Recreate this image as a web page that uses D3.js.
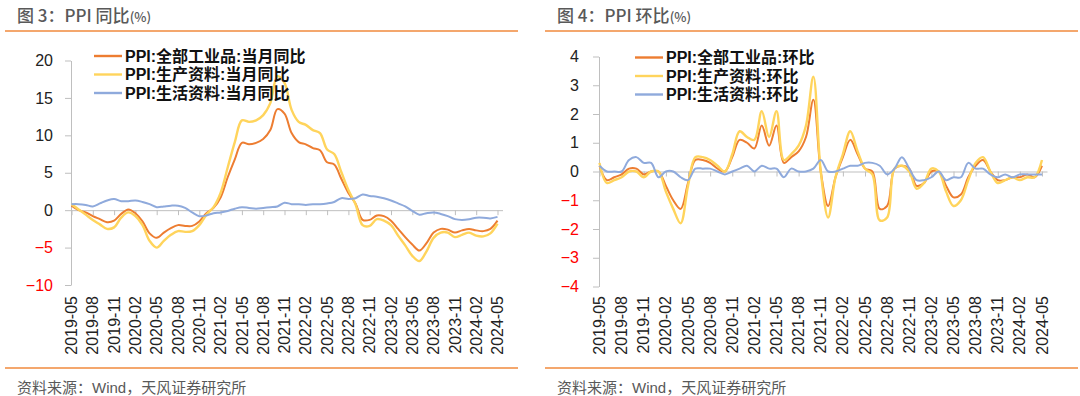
<!DOCTYPE html>
<html>
<head>
<meta charset="utf-8">
<script src="https://cdn.jsdelivr.net/npm/d3@7/dist/d3.min.js"></script>
<style>
    body { margin: 0; background: #fff; }
    svg { display: block; font-family: "Liberation Sans", Arial, "Noto Sans CJK SC", sans-serif; }
</style>
</head>
<body>
<svg id="chart" width="1080" height="396"></svg>
<script>
// months on the category axis, 2019-05 .. 2024-05
const months = [
    "2019-05", "2019-06", "2019-07", "2019-08", "2019-09", "2019-10", "2019-11", "2019-12",
    "2020-01", "2020-02", "2020-03", "2020-04", "2020-05", "2020-06", "2020-07", "2020-08",
    "2020-09", "2020-10", "2020-11", "2020-12",
    "2021-01", "2021-02", "2021-03", "2021-04", "2021-05", "2021-06", "2021-07", "2021-08",
    "2021-09", "2021-10", "2021-11", "2021-12",
    "2022-01", "2022-02", "2022-03", "2022-04", "2022-05", "2022-06", "2022-07", "2022-08",
    "2022-09", "2022-10", "2022-11", "2022-12",
    "2023-01", "2023-02", "2023-03", "2023-04", "2023-05", "2023-06", "2023-07", "2023-08",
    "2023-09", "2023-10", "2023-11", "2023-12",
    "2024-01", "2024-02", "2024-03", "2024-04", "2024-05"
];
// labels shown under the axis (every third month)
const monthLabels = [
    "2019-05", "2019-08", "2019-11", "2020-02", "2020-05", "2020-08", "2020-11",
    "2021-02", "2021-05", "2021-08", "2021-11", "2022-02", "2022-05", "2022-08",
    "2022-11", "2023-02", "2023-05", "2023-08", "2023-11", "2024-02", "2024-05"
];

// 图3: PPI 同比
const yoyAll = [
    0.6, 0.0, -0.3, -0.8, -1.2, -1.6, -1.4, -0.5,
    0.1, -0.4, -1.5, -3.1, -3.7, -3.0, -2.4, -2.0, -2.1, -2.1, -1.5, -0.4,
    0.3, 1.7, 4.4, 6.8, 9.0, 8.8, 9.0, 9.5, 10.7, 13.5, 12.9, 10.3,
    9.1, 8.8, 8.3, 8.0, 6.4, 6.1, 4.2, 2.3, 0.9, -1.3, -1.3, -0.7,
    -0.8, -1.4, -2.5, -3.6, -4.6, -5.4, -4.4, -3.0, -2.5, -2.6, -3.0, -2.7,
    -2.5, -2.7, -2.8, -2.5, -1.4
];
const yoyProducer = [
    0.8, 0.1, -0.6, -1.3, -1.9, -2.5, -2.3, -1.0,
    -0.3, -0.8, -2.0, -4.1, -5.0, -4.1, -3.3, -2.8, -2.9, -2.8, -2.0, -0.6,
    0.4, 2.3, 5.7, 9.1, 12.0, 11.8, 12.0, 12.7, 14.3, 17.9, 17.0, 13.4,
    11.8, 11.4, 10.7, 10.3, 8.1, 7.5, 5.1, 2.7, 0.8, -2.0, -2.1, -1.2,
    -1.4, -2.0, -3.4, -4.7, -6.1, -6.8, -5.5, -3.7, -3.0, -3.0, -3.6, -3.3,
    -3.0, -3.4, -3.5, -3.1, -1.8
];
const yoyConsumer = [
    0.8, 0.8, 0.7, 0.5, 0.9, 1.3, 1.5, 1.2,
    1.2, 1.3, 1.1, 0.8, 0.4, 0.5, 0.6, 0.6, 0.3, -0.3, -0.8, -0.7,
    -0.4, -0.3, -0.1, 0.2, 0.4, 0.3, 0.2, 0.3, 0.4, 0.5, 1.0, 0.8,
    0.8, 0.7, 0.8, 0.8, 0.9, 1.1, 1.6, 1.5, 1.6, 2.1, 1.9, 1.8,
    1.6, 1.3, 0.9, 0.5, -0.1, -0.6, -0.4, -0.3, -0.5, -0.8, -1.2, -1.3,
    -1.2, -1.0, -1.0, -1.1, -0.9
];

// 图4: PPI 环比
const momAll = [
    0.2, -0.3, -0.2, -0.1, 0.1, 0.1, -0.1, 0.0,
    0.0, -0.5, -1.0, -1.3, -0.4, 0.4, 0.4, 0.3, 0.1, 0.0, 0.5, 1.1,
    1.0, 0.8, 1.6, 0.9, 1.6, 0.3, 0.5, 0.7, 1.2, 2.5, 0.0, -1.2,
    -0.2, 0.5, 1.1, 0.6, 0.1, 0.0, -1.3, -1.2, 0.1, 0.2, 0.1, -0.5,
    -0.4, 0.0, 0.0, -0.5, -0.9, -0.8, -0.2, 0.2, 0.4, 0.0, -0.3, -0.3,
    -0.2, -0.2, -0.1, -0.2, 0.2
];
const momProducer = [
    0.3, -0.4, -0.3, -0.2, 0.0, 0.0, -0.2, 0.0,
    0.0, -0.7, -1.3, -1.8, -0.5, 0.5, 0.5, 0.4, 0.2, 0.0, 0.6, 1.4,
    1.2, 1.1, 2.1, 1.2, 2.1, 0.4, 0.6, 0.9, 1.6, 3.3, 0.0, -1.6,
    -0.2, 0.6, 1.4, 0.7, 0.1, -0.1, -1.7, -1.6, 0.1, 0.2, 0.0, -0.6,
    -0.4, 0.1, 0.0, -0.7, -1.2, -1.0, -0.3, 0.3, 0.5, 0.0, -0.4, -0.3,
    -0.2, -0.3, -0.2, -0.2, 0.4
];
const momConsumer = [
    0.2, 0.0, 0.0, 0.0, 0.4, 0.5, 0.3, 0.3,
    -0.2, 0.0, 0.0, -0.2, -0.3, 0.1, 0.1, 0.1, 0.0, -0.1, 0.0, 0.1,
    0.2, 0.0, 0.2, 0.1, 0.1, -0.2, 0.1, 0.0, 0.0, 0.1, 0.4, 0.0,
    0.0, 0.1, 0.2, 0.2, 0.3, 0.3, 0.2, -0.1, 0.1, 0.5, 0.1, -0.3,
    -0.3, -0.2, 0.0, -0.3, -0.2, -0.2, 0.3, 0.1, 0.1, -0.1, -0.2, -0.1,
    -0.2, -0.1, -0.1, -0.1, -0.1
];

const colors = ["#ED7D31", "#FFD45C", "#8FAADC"];
const widths = [2, 2.4, 2];

var svg = d3.select("#chart");

function drawPanel(cfg) {
    var g = svg.append("g").attr("class", "panel");

    // title + orange rule on top
    var title = g.append("text")
        .attr("x", cfg.left + 12)
        .attr("y", 22)
        .attr("fill", "#595959")
        .style("font-family", "'Noto Sans CJK SC', sans-serif")
        .style("font-weight", 500)
        .style("font-size", "17px")
        .text(cfg.title);
    title.append("tspan").style("font-size", "13px").text("(%)");
    g.append("line")
        .attr("x1", cfg.left).attr("x2", cfg.left + cfg.ruleW)
        .attr("y1", 31).attr("y2", 31)
        .attr("stroke", "#F08A3C").attr("stroke-width", 1.5);

    // footer
    g.append("line")
        .attr("x1", cfg.left).attr("x2", cfg.left + cfg.ruleW)
        .attr("y1", 368).attr("y2", 368)
        .attr("stroke", "#F08A3C").attr("stroke-width", 1.5);
    g.append("text")
        .attr("x", cfg.left + 12)
        .attr("y", 392.5)
        .attr("fill", "#595959")
        .style("font-size", "15px")
        .text("资料来源：Wind，天风证券研究所");

    var x = d3.scalePoint().domain(months).range([cfg.x0, cfg.x1]);
    var y = d3.scaleLinear().domain(cfg.yDomain).range([cfg.yBottom, cfg.yTop]);

    // y axis
    var yAxis = g.append("g")
        .attr("transform", "translate(" + cfg.axisX + ",0)")
        .call(d3.axisLeft(y).tickValues(cfg.yTicks).tickSize(6).tickSizeOuter(0).tickPadding(cfg.yPad));
    yAxis.select(".domain").attr("stroke", "#BFBFBF");
    yAxis.selectAll(".tick line").attr("stroke", "#BFBFBF");
    yAxis.selectAll(".tick text")
        .style("font-size", "16px")
        .attr("fill", (d) => (d < 0 ? "#FF0000" : "#222"));

    // zero line with small ticks every third month
    var xAxis = g.append("g")
        .attr("transform", "translate(0," + y(0) + ")")
        .call(d3.axisBottom(x).tickValues(monthLabels).tickSize(5).tickSizeOuter(0).tickFormat(""));
    xAxis.select(".domain")
        .attr("d", "M" + cfg.axisX + ",0.5H" + (cfg.x1 + 5.5))
        .attr("stroke", "#BFBFBF");
    xAxis.selectAll(".tick line").attr("stroke", "#BFBFBF");

    // rotated month labels at the bottom
    g.append("g")
        .selectAll("text")
        .data(monthLabels)
        .enter()
        .append("text")
        .attr("transform", (d) => "translate(" + x(d) + "," + cfg.labelY + ") rotate(-90)")
        .attr("text-anchor", "end")
        .attr("dy", "0.35em")
        .attr("fill", "#222")
        .style("font-size", "16px")
        .text((d) => d);

    // series lines
    var line = d3.line()
        .x((d, i) => x(months[i]))
        .y((d) => y(d))
        .curve(d3.curveCatmullRom.alpha(0.5));

    cfg.series.forEach(function (s, k) {
        g.append("path")
            .datum(s)
            .attr("fill", "none")
            .attr("stroke", colors[k])
            .attr("stroke-width", widths[k])
            .attr("stroke-linejoin", "round")
            .attr("d", line);
    });

    // legend
    var legend = g.append("g")
        .attr("class", "legend")
        .attr("transform", "translate(" + cfg.legendX + "," + cfg.legendY + ")");
    legend.selectAll("line")
        .data(cfg.names)
        .enter()
        .append("line")
        .attr("x1", 0).attr("x2", 28)
        .attr("y1", (d, i) => i * 18.5).attr("y2", (d, i) => i * 18.5)
        .attr("stroke", (d, i) => colors[i])
        .attr("stroke-width", 2.4);
    legend.selectAll("text")
        .data(cfg.names)
        .enter()
        .append("text")
        .attr("x", 31)
        .attr("y", (d, i) => i * 18.5)
        .attr("dy", "0.36em")
        .attr("fill", "#111")
        .style("font-size", "16px")
        .style("font-weight", "bold")
        .text((d) => d);
}

drawPanel({
    left: 5, ruleW: 513,
    title: "图 3：PPI 同比",
    x0: 71.5, x1: 497.5, axisX: 71,
    yDomain: [-10, 20], yTicks: [-10, -5, 0, 5, 10, 15, 20],
    yTop: 60.5, yBottom: 285, yPad: 12,
    labelY: 296,
    series: [yoyAll, yoyProducer, yoyConsumer],
    names: ["PPI:全部工业品:当月同比", "PPI:生产资料:当月同比", "PPI:生活资料:当月同比"],
    legendX: 94, legendY: 56
});

drawPanel({
    left: 545, ruleW: 533,
    title: "图 4：PPI 环比",
    x0: 599.5, x1: 1042, axisX: 599,
    yDomain: [-4, 4], yTicks: [-4, -3, -2, -1, 0, 1, 2, 3, 4],
    yTop: 56.5, yBottom: 286.5, yPad: 14,
    labelY: 296,
    series: [momAll, momProducer, momConsumer],
    names: ["PPI:全部工业品:环比", "PPI:生产资料:环比", "PPI:生活资料:环比"],
    legendX: 635, legendY: 57.5
});
</script>
</body>
</html>
